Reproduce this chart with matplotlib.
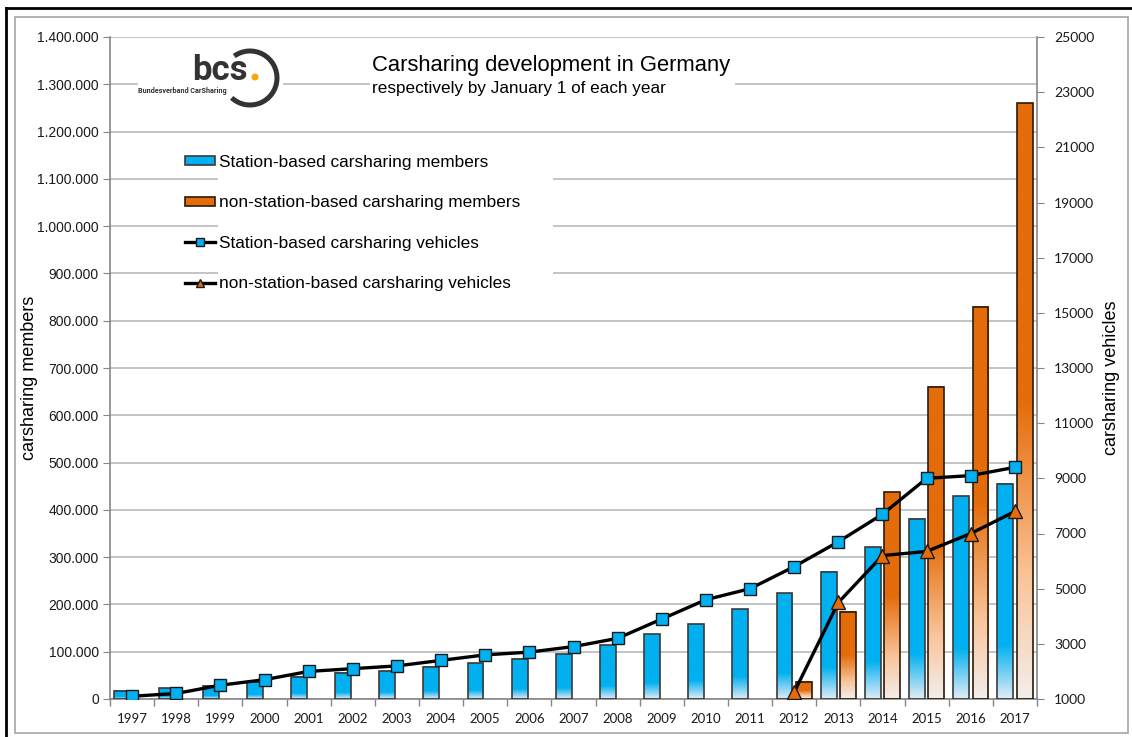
"""Carsharing development in Germany: members (bars) and vehicles (lines)."""
import numpy as np
import matplotlib
matplotlib.use("Agg")
import matplotlib.pyplot as plt
from matplotlib.patches import Rectangle, Arc, Ellipse, Patch
from matplotlib.lines import Line2D
from matplotlib.colors import LinearSegmentedColormap
from matplotlib.ticker import FuncFormatter
from matplotlib.transforms import blended_transform_factory

plt.rcParams["font.family"] = ["Liberation Sans", "DejaVu Sans"]

nan = np.nan
years = [str(y) for y in range(1997, 2018)]
station_members = [17000, 23000, 28000, 36000, 47000, 55000, 59000, 68000, 76000, 85000,
                   95000, 114000, 137000, 158000, 190000, 224000, 269000, 321000, 381000,
                   429000, 455000]
free_members = [nan] * 15 + [36000, 184000, 437000, 660000, 830000, 1260000]
station_vehicles = [1100, 1200, 1500, 1700, 2000, 2100, 2200, 2400, 2600, 2700, 2900,
                    3200, 3900, 4600, 5000, 5800, 6700, 7700, 9000, 9100, 9400]
free_vehicles = [nan] * 15 + [1250, 4500, 6200, 6350, 7000, 7800]
vehicle_ticks = list(range(1000, 25001, 2000))

BLUE = "#00B0F0"
ORANGE = "#E46C0A"
GRID = "#BFBFBF"
AXC = "#868686"
TXT = "#1A1A1A"

W, H = 1132, 737
fig = plt.figure(figsize=(W / 100, H / 100), dpi=100)


def fx(x):
    return x / W


def fy(y):
    return 1 - y / H


ax = fig.add_axes([fx(110), fy(699), (1037 - 110) / W, (699 - 37) / H])
ax2 = ax.twinx()

x = np.arange(len(years))
bw = 0.36
off = 0.22

blue_cmap = LinearSegmentedColormap.from_list(
    "blue_fade", [(0, "#E2ECF6"), (0.25, BLUE), (1, BLUE)])
orange_cmap = LinearSegmentedColormap.from_list(
    "orange_fade", [(0, "#F2EEEC"), (0.2, "#FAC59B"), (0.5, ORANGE), (1, ORANGE)])
grad = np.linspace(0, 1, 256).reshape(-1, 1)


def gradient_bars(xs, heights, cmap, edge):
    for xc, h in zip(xs, heights):
        if np.isnan(h):
            continue
        ax.imshow(grad, cmap=cmap, extent=[xc - bw / 2, xc + bw / 2, 0, h],
                  origin="lower", aspect="auto", zorder=2, interpolation="bilinear")
        ax.add_patch(Rectangle((xc - bw / 2, 0), bw, h, fill=False, ec=edge,
                               lw=1.2, zorder=3))


gradient_bars(x - off, station_members, blue_cmap, "#3A3A3A")
gradient_bars(x + off, free_members, orange_cmap, "#2A1A0A")

ax2.plot(x, station_vehicles, color="black", lw=2.4, marker="s", ms=8.5,
         mfc=BLUE, mec="#1A1A1A", mew=1, zorder=5)
ax2.plot(x, free_vehicles, color="black", lw=2.4, marker="^", ms=10,
         mfc=ORANGE, mec="#1A1A1A", mew=1, zorder=5)

# axes ranges and ticks
ax.set_xlim(-0.5, len(years) - 0.5)
ax.set_ylim(0, 1400000)
ax2.set_ylim(1000, 25000)

ax.set_xticks(x)
ax.set_xticklabels(years, family="Lato", fontsize=9.5, color=TXT)
ax.set_xticks(np.arange(-0.5, len(years), 1), minor=True)
ax.tick_params(axis="x", which="major", length=0, pad=10)
ax.tick_params(axis="x", which="minor", length=5, color=AXC, width=1)

ax.set_yticks(np.arange(0, 1400001, 100000))
ax.yaxis.set_major_formatter(FuncFormatter(lambda v, p: f"{int(v):,}".replace(",", ".")))
ax.tick_params(axis="y", length=5, color=AXC, labelsize=10, labelcolor=TXT, pad=3)

# right axis: tick marks from matplotlib, labels placed next to them
ax2.set_yticks(vehicle_ticks)
ax2.tick_params(axis="y", length=5, color=AXC, labelright=False)
right_tr = blended_transform_factory(fig.transFigure, ax2.transData)
for v in vehicle_ticks:
    ax2.text(fx(1054), v, str(v), transform=right_tr, ha="left", va="center_baseline",
             family="Lato", fontsize=10, color=TXT, clip_on=False)

ax.yaxis.grid(True, color=GRID, lw=1.3)
ax.set_axisbelow(True)

for a in (ax, ax2):
    a.spines["top"].set_visible(False)
    for s in ("left", "right", "bottom"):
        a.spines[s].set_color(AXC)
        a.spines[s].set_linewidth(1.2)
ax.spines["right"].set_visible(False)
ax2.spines["left"].set_visible(False)
ax2.spines["bottom"].set_visible(False)

# white boxes behind logo, title and legend interrupt the gridlines
for x0, y0, x1, y1 in [(138, 45, 283, 108), (370, 47, 735, 102), (218, 143, 553, 297)]:
    ax.add_patch(Rectangle((fx(x0), fy(y1)), (x1 - x0) / W, (y1 - y0) / H,
                           transform=fig.transFigure, fc="white", ec="none", zorder=1))

# logo
fig.text(fx(192), fy(80), "bcs", family="Roboto", fontweight="bold", fontsize=25,
         color="#333333", va="baseline")
fig.text(fx(138), fy(91), "Bundesverband CarSharing", family="Roboto", fontweight="bold",
         fontsize=5.2, color="#333333", va="center")
fig.add_artist(Ellipse((fx(255), fy(77)), 7 / W, 7 / H, transform=fig.transFigure,
                       fc="#F5A800", ec="none"))
fig.add_artist(Arc((fx(250), fy(78)), 54 / W, 54 / H, theta1=-121, theta2=115,
                   transform=fig.transFigure, color="#333333", lw=3.6))

# title
fig.text(fx(372), fy(65), "Carsharing development in Germany", fontsize=15.8,
         color="black", va="center")
fig.text(fx(372), fy(88), "respectively by January 1 of each year", fontsize=12.3,
         color="black", va="center")

# axis titles
fig.text(fx(30), fy(378), "carsharing members", rotation=90, fontsize=13,
         ha="center", va="center", color="black")
fig.text(fx(1111), fy(378), "carsharing vehicles", rotation=90, fontsize=13,
         ha="center", va="center", color="black")

# legend
handles = [
    Patch(fc=BLUE, ec="#3A3A3A", lw=1.2),
    Patch(fc=ORANGE, ec="#2A1A0A", lw=1.2),
    Line2D([], [], color="black", lw=2.4, marker="s", ms=6, mfc=BLUE, mec="#1A1A1A"),
    Line2D([], [], color="black", lw=2.4, marker="^", ms=6, mfc=ORANGE, mec="#1A1A1A"),
]
labels = ["Station-based carsharing members", "non-station-based carsharing members",
          "Station-based carsharing vehicles", "non-station-based carsharing vehicles"]
ax2.legend(handles, labels, loc="upper left", bbox_to_anchor=(fx(185), fy(155)),
           bbox_transform=fig.transFigure, frameon=False, fontsize=12.4,
           handlelength=1.75, handleheight=0.42, handletextpad=0.25,
           labelspacing=1.47, borderpad=0, borderaxespad=0)

# frame around the chart
fig.add_artist(Line2D([fx(6), 1], [fy(8), fy(8)], color="black", lw=2,
                      transform=fig.transFigure))
fig.add_artist(Line2D([fx(6), fx(6)], [fy(8), 0], color="black", lw=2,
                      transform=fig.transFigure))
fig.add_artist(Rectangle((fx(15), fy(733)), (1128 - 15) / W, (733 - 17) / H,
                         transform=fig.transFigure, fill=False, ec="#A6A6A6", lw=1.2))

fig.savefig("out.png", dpi=100)
